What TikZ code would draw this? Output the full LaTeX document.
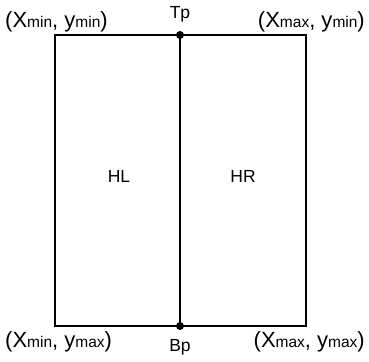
\documentclass[tikz,border=0pt]{standalone}
\usepackage{fontspec}
\setmainfont{Liberation Sans}
\newcommand\lsub[1]{{\fontsize{15.5}{17}\selectfont #1}}
\begin{document}
\begin{tikzpicture}[x=1pt,y=-1pt,
  frame/.style={line width=1.8pt},
  dotmark/.style={circle,fill=black,inner sep=0pt,minimum size=8pt},
  corner/.style={inner sep=0pt,font=\fontsize{22}{24}\selectfont},
  label/.style={inner sep=0pt,font=\fontsize{17.5}{19}\selectfont}]
  \useasboundingbox (0,0) rectangle (369,361);
  % frame corners and split points
  \coordinate (tl) at (55,35);
  \coordinate (br) at (306,326);
  \node[dotmark] (tp) at (180,35) {};
  \node[dotmark] (bp) at (180,326) {};
  \draw[frame] (tl) rectangle (br);
  \draw[frame] (tp.center) -- (bp.center);
  % corner coordinates
  \node[corner,anchor=base west] (c1) at (5,28) {(X\lsub{min}, y\lsub{min})};
  \node[corner,anchor=base east] (c2) at (365,28) {(X\lsub{max}, y\lsub{min})};
  \node[corner,anchor=base west] (c3) at (5,347) {(X\lsub{min}, y\lsub{max})};
  \node[corner,anchor=base east] (c4) at (365,347) {(X\lsub{max}, y\lsub{max})};
  % split point labels and halves
  \node[label,anchor=base] (tplab) at (180,19) {Tp};
  \node[label,anchor=base] (bplab) at (180,351) {Bp};
  \node[label] (hl) at (119,176) {HL};
  \node[label] (hr) at (243,176) {HR};
\end{tikzpicture}
\end{document}
